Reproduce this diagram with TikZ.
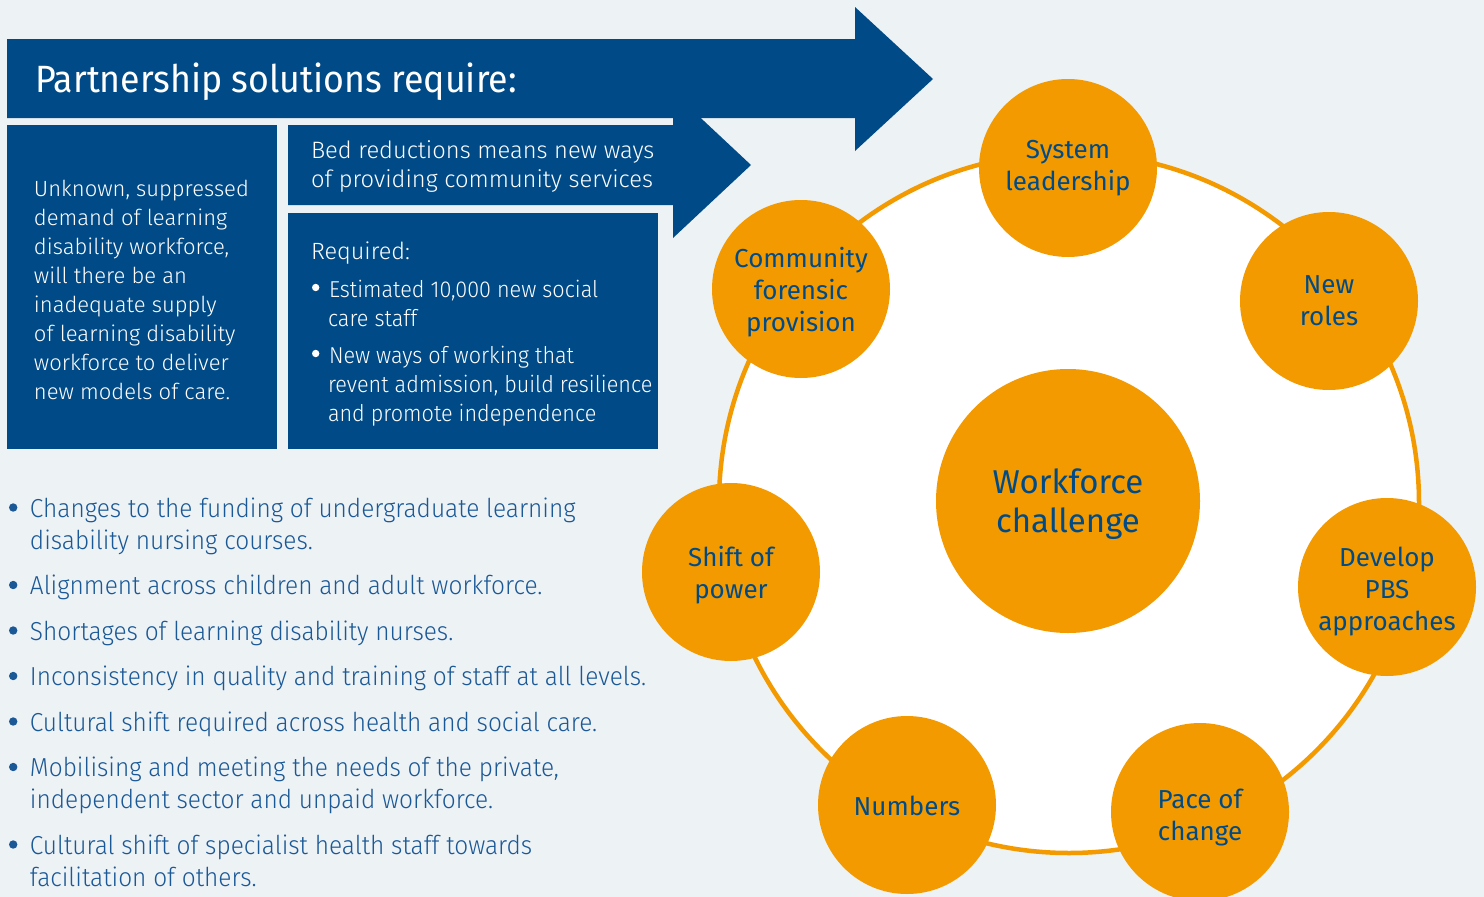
\documentclass[tikz,border=0pt]{standalone}
\usepackage{fontspec}
\IfFontExistsTF{Fira Sans Light}{%
  \setmainfont{Fira Sans Light}%
  \newfontfamily\narrowfont[FakeStretch=0.94]{Fira Sans Light}}{%
  \setmainfont{Fira Sans}%
  \newfontfamily\narrowfont[FakeStretch=0.94]{Fira Sans}}
\newfontfamily\labelfont{Fira Sans}
\newfontfamily\titlefont[FakeStretch=0.94]{Fira Sans}
\definecolor{nhsblue}{RGB}{0,75,135}
\definecolor{amber}{RGB}{243,154,0}
\definecolor{paper}{RGB}{237,242,245}
\definecolor{listblue}{RGB}{26,88,150}
% round bullet: #1 hanging indent, #2 radius, #3 colour, #4 height of its centre
\newcommand{\hangbullet}[4]{\hangindent=#1\hangafter=1%
  \makebox[#1][l]{\tikz[baseline=-#4]\fill[#3] (0,0) circle[radius=#2];}}

\begin{document}
\begin{tikzpicture}[x=1pt,y=-1pt,
  every node/.style={inner sep=0pt, outer sep=0pt},
  bubble/.style={circle, fill=amber, minimum size=178pt},
  corebubble/.style={bubble, minimum size=264pt},
  bubbletext/.style={text=nhsblue, align=center, font=\labelfont\fontsize{26}{32}\selectfont},
  coretext/.style={bubbletext, font=\labelfont\fontsize{33}{39}\selectfont},
  panel/.style={fill=nhsblue},
  paneltext/.style={anchor=base west, text=white},
  listtext/.style={anchor=base west, text=listblue}
]
% page
\fill[paper] (0,0) rectangle (1484,897);
\useasboundingbox (0,0) rectangle (1484,897);
\clip (0,0) rectangle (1484,897);

% second arrow (drawn first, the big one overlaps its head)
\fill[panel] (288,125) -- (673,125) -- (673,92) -- (751,165) -- (673,238)
  -- (673,205) -- (288,205) -- cycle;
% big arrow
\fill[panel] (7,39) -- (855,39) -- (855,7) -- (933,79) -- (855,151)
  -- (855,118) -- (7,118) -- cycle;
\node[paneltext, font=\titlefont\fontsize{38}{44}\selectfont] (title) at (35,92)
  {Partnership solutions require:};

% text panels
\fill[panel] (7,125) rectangle (277,449);
\fill[panel] (288,213) rectangle (658,449);

\node[paneltext] (demand) at (34,196) {\parbox[t]{240pt}{\fontsize{22}{29}\selectfont\raggedright
  Unknown, suppressed\newline demand of learning\newline disability workforce,\newline will there be an\newline
  inadequate supply\newline of learning disability\newline workforce to deliver\newline new models of care.}};

\node[paneltext] (beds) at (311,158) {\parbox[t]{370pt}{\fontsize{23.7}{29}\selectfont\raggedright
  Bed reductions means new ways\newline of providing community services}};

\node[paneltext] (required) at (311,259) {\parbox[t]{345pt}{\narrowfont\fontsize{23}{29}\selectfont\raggedright
  \def\itm{\hangbullet{17pt}{3.7pt}{white}{9.5pt}}%
  {\normalfont\fontsize{23.5}{29}\selectfont Required:}\par\vspace{9pt}
  \hspace*{1pt}\itm Estimated 10,000 new social\newline care staff\par\vspace{8pt}
  \hspace*{1pt}\itm New ways of working that\newline revent admission, build resilience\newline and promote independence}};

% challenge list
\node[listtext] (challenges) at (9,517) {\parbox[t]{640pt}{\narrowfont\fontsize{26}{32}\selectfont\raggedright
  \def\itm{\par\vspace{13.5pt}\hangbullet{21pt}{4.2pt}{listblue}{9.5pt}}%
  \hangbullet{21pt}{4.2pt}{listblue}{9.5pt}Changes to the funding of undergraduate learning\newline disability nursing courses.
  \itm Alignment across children and adult workforce.
  \itm Shortages of learning disability nurses.
  \itm Inconsistency in quality and training of staff at all levels.
  \itm Cultural shift required across health and social care.
  \itm Mobilising and meeting the needs of the private,\newline independent sector and unpaid workforce.
  \itm Cultural shift of specialist health staff towards\newline facilitation of others.}};

% ring of workforce themes
\node[circle, draw=amber, fill=white, line width=4.5pt, minimum size=700pt] (ring) at (1069,503) {};
\node[corebubble] (core) at (1068,501) {};
\node[bubble] (sys) at (1068,168) {};
\node[bubble] (cfp) at (801,289) {};
\node[bubble] (roles) at (1329,301) {};
\node[bubble] (shift) at (731,572) {};
\node[bubble] (pbs) at (1387,587) {};
\node[bubble] (numbers) at (907,805) {};
\node[bubble] (pace) at (1200,812) {};

\node[coretext] (coreL) at ([yshift=-3pt]core.center) {Workforce\\ challenge};
\node[bubbletext] (sysL) at (sys.center) {System\\ leadership};
\node[bubbletext] (cfpL) at ([yshift=-3pt]cfp.center) {Community\\ forensic\\ provision};
\node[bubbletext] (rolesL) at (roles.center) {New\\ roles};
\node[bubbletext] (shiftL) at ([yshift=-3pt]shift.center) {Shift of\\ power};
\node[bubbletext] (pbsL) at ([yshift=-5pt]pbs.center) {Develop\\ PBS\\ approaches};
\node[bubbletext] (numbersL) at ([yshift=-1pt]numbers.center) {Numbers};
\node[bubbletext] (paceL) at ([yshift=-6pt]pace.center) {Pace of\\ change};
\end{tikzpicture}
\end{document}
